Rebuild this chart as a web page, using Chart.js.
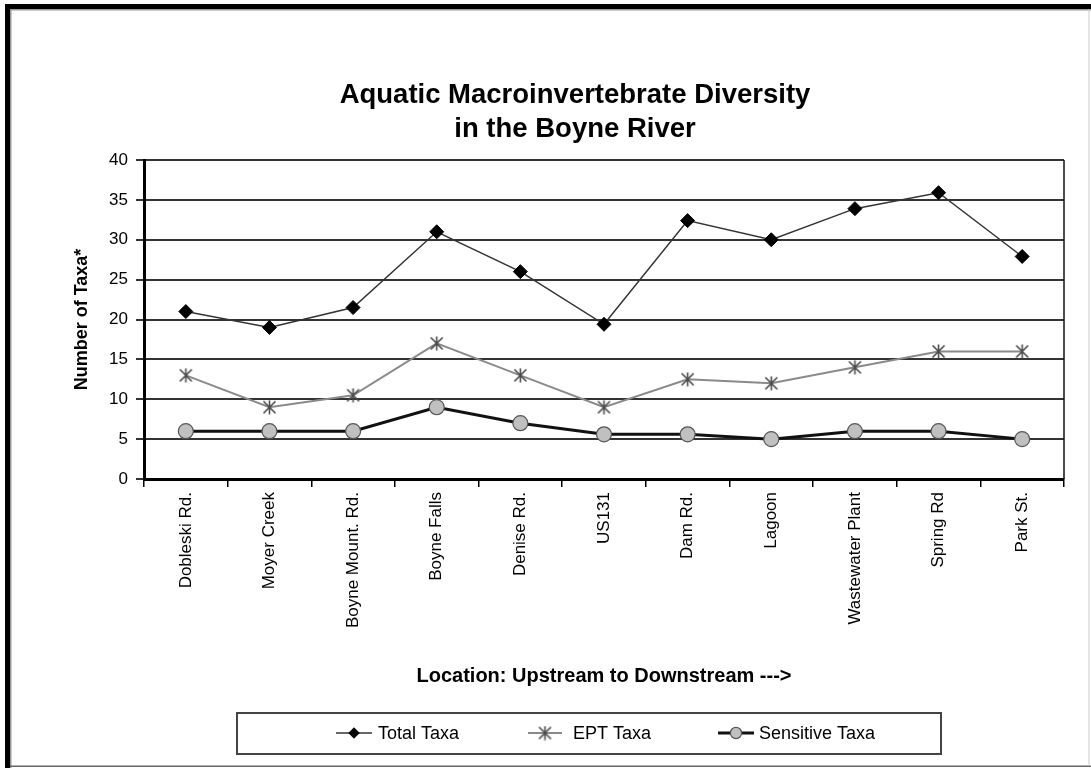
<!DOCTYPE html>
<html>
<head>
<meta charset="utf-8">
<script src="https://cdn.jsdelivr.net/npm/chart.js@4/dist/chart.umd.min.js"></script>
<style>
  html, body { margin: 0; padding: 0; background: #fff; }
  #wrap { width: 1091px; height: 768px; position: relative; }
</style>
</head>
<body>
<div id="wrap"><canvas id="chart" width="1091" height="768"></canvas></div>
<script>
// data
const locations = ["Dobleski Rd.", "Moyer Creek", "Boyne Mount. Rd.", "Boyne Falls", "Denise Rd.",
  "US131", "Dam Rd.", "Lagoon", "Wastewater Plant", "Spring Rd", "Park St."];
const totalTaxa = [21, 19, 21.5, 31, 26, 19.4, 32.4, 30, 33.9, 35.9, 27.9];
const eptTaxa = [13, 9, 10.5, 17, 13, 9, 12.5, 12, 14, 16, 16];
const sensitiveTaxa = [6, 6, 6, 9, 7, 5.6, 5.6, 5, 6, 6, 5];
const yTicks = [0, 5, 10, 15, 20, 25, 30, 35, 40];
const titleLines = ["Aquatic Macroinvertebrate Diversity", "in the Boyne River"];

const FONT = "Arial, 'Liberation Sans', sans-serif";

// Excel style "star" marker: X with a vertical bar
function starMarker(size, color) {
  const c = document.createElement("canvas");
  c.width = size; c.height = size;
  const g = c.getContext("2d");
  const m = size / 2, r = size / 2 - 1.5;
  g.strokeStyle = color;
  g.lineWidth = 1.6;
  g.beginPath();
  g.moveTo(m - r, m - r); g.lineTo(m + r, m + r);
  g.moveTo(m + r, m - r); g.lineTo(m - r, m + r);
  g.moveTo(m, m - r - 1); g.lineTo(m, m + r + 1);
  g.stroke();
  return c;
}
const eptMarker = starMarker(15, "#4a4a4a");

// title, outer frame, right border of plot area and the boxed legend
const extras = {
  id: "extras",
  afterDraw(chart) {
    const ctx = chart.ctx;
    const a = chart.chartArea;
    ctx.save();

    // title (sits a bit left of the plot centre, like the original)
    ctx.fillStyle = "#000";
    ctx.font = "bold 27.5px " + FONT;
    ctx.textAlign = "center";
    ctx.textBaseline = "middle";
    titleLines.forEach((t, i) => ctx.fillText(t, 575, 95 + i * 34));

    // plot area right border
    ctx.strokeStyle = "#111";
    ctx.lineWidth = 1.5;
    ctx.beginPath();
    ctx.moveTo(a.right, a.top);
    ctx.lineTo(a.right, a.bottom);
    ctx.stroke();

    // outer frame
    ctx.fillStyle = "#000";
    ctx.fillRect(5, 4, 1086, 5);
    ctx.fillRect(5, 4, 5, 764);
    ctx.fillStyle = "#9a9a9a";
    ctx.fillRect(10, 9, 1081, 1.5);
    ctx.fillRect(10, 9, 1.5, 759);
    ctx.fillStyle = "#666";
    ctx.fillRect(10, 765.5, 1081, 1.5);
    ctx.fillStyle = "#ccc";
    ctx.fillRect(1088.5, 9, 1, 757);

    // legend box
    ctx.strokeStyle = "#444";
    ctx.lineWidth = 2;
    ctx.strokeRect(237, 713, 704, 41);

    const ds = chart.data.datasets;
    const items = [
      { d: ds[0], x0: 336, x1: 372, tx: 378 },
      { d: ds[1], x0: 528, x1: 562, tx: 573 },
      { d: ds[2], x0: 718, x1: 754, tx: 759 }
    ];
    const ly = 733;
    ctx.font = "18px " + FONT;
    ctx.textAlign = "left";
    items.forEach(it => {
      const d = it.d;
      ctx.strokeStyle = d.borderColor;
      ctx.lineWidth = d.borderWidth;
      ctx.beginPath();
      ctx.moveTo(it.x0, ly);
      ctx.lineTo(it.x1, ly);
      ctx.stroke();
      ctx.fillStyle = d.pointBackgroundColor || "#000";
      ctx.strokeStyle = d.pointBorderColor || "#000";
      ctx.lineWidth = d.pointBorderWidth;
      Chart.helpers.drawPoint(ctx, {
        pointStyle: d.pointStyle,
        radius: d.pointRadius * 0.75,
        borderWidth: d.pointBorderWidth
      }, (it.x0 + it.x1) / 2, ly);
      ctx.fillStyle = "#000";
      ctx.fillText(d.label, it.tx, ly + 1);
    });
    ctx.restore();
  }
};

const ctx = document.getElementById("chart").getContext("2d");
new Chart(ctx, {
  type: "line",
  data: {
    labels: locations,
    datasets: [
      {
        label: "Total Taxa",
        data: totalTaxa,
        borderColor: "#333",
        borderWidth: 1.5,
        pointStyle: "rectRot",
        pointRadius: 7,
        pointBackgroundColor: "#000",
        pointBorderColor: "#000",
        pointBorderWidth: 1,
        tension: 0
      },
      {
        label: "EPT Taxa",
        data: eptTaxa,
        borderColor: "#8a8a8a",
        borderWidth: 2,
        pointStyle: eptMarker,
        pointRadius: 7,
        pointBorderWidth: 1,
        tension: 0
      },
      {
        label: "Sensitive Taxa",
        data: sensitiveTaxa,
        borderColor: "#111",
        borderWidth: 3,
        pointStyle: "circle",
        pointRadius: 7.5,
        pointBackgroundColor: "#c0c0c0",
        pointBorderColor: "#555",
        pointBorderWidth: 1.2,
        tension: 0
      }
    ]
  },
  options: {
    responsive: false,
    animation: false,
    events: [],
    layout: { padding: { top: 160, left: 10, right: 27, bottom: 68 } },
    plugins: {
      legend: { display: false },
      tooltip: { enabled: false },
      title: { display: false }
    },
    scales: {
      x: {
        type: "category",
        offset: true,
        grid: {
          offset: true,
          drawOnChartArea: false,
          drawTicks: true,
          tickLength: 8,
          color: "#000",
          lineWidth: 1.5
        },
        border: { display: true, color: "#000", width: 3 },
        ticks: {
          color: "#000",
          font: { family: FONT, size: 17 },
          minRotation: 90,
          maxRotation: 90,
          autoSkip: false,
          padding: 5
        },
        title: {
          display: true,
          text: "Location: Upstream to Downstream --->",
          color: "#000",
          font: { family: FONT, size: 20, weight: "bold", lineHeight: 1.2 },
          padding: { top: 0, bottom: 12 }
        },
        afterFit(scale) { scale.height = 221; }
      },
      y: {
        min: 0,
        max: 40,
        afterBuildTicks(scale) { scale.ticks = yTicks.map(v => ({ value: v })); },
        grid: {
          color: "#333",
          lineWidth: 2,
          drawTicks: true,
          tickLength: 8
        },
        border: { display: true, color: "#000", width: 3 },
        ticks: {
          color: "#000",
          font: { family: FONT, size: 17 },
          padding: 8
        },
        title: {
          display: true,
          text: "Number of Taxa*",
          color: "#000",
          font: { family: FONT, size: 18, weight: "bold", lineHeight: 1.2 },
          padding: { top: 61, bottom: 0 }
        },
        afterFit(scale) { scale.width = 134; }
      }
    }
  },
  plugins: [extras]
});
</script>
</body>
</html>
